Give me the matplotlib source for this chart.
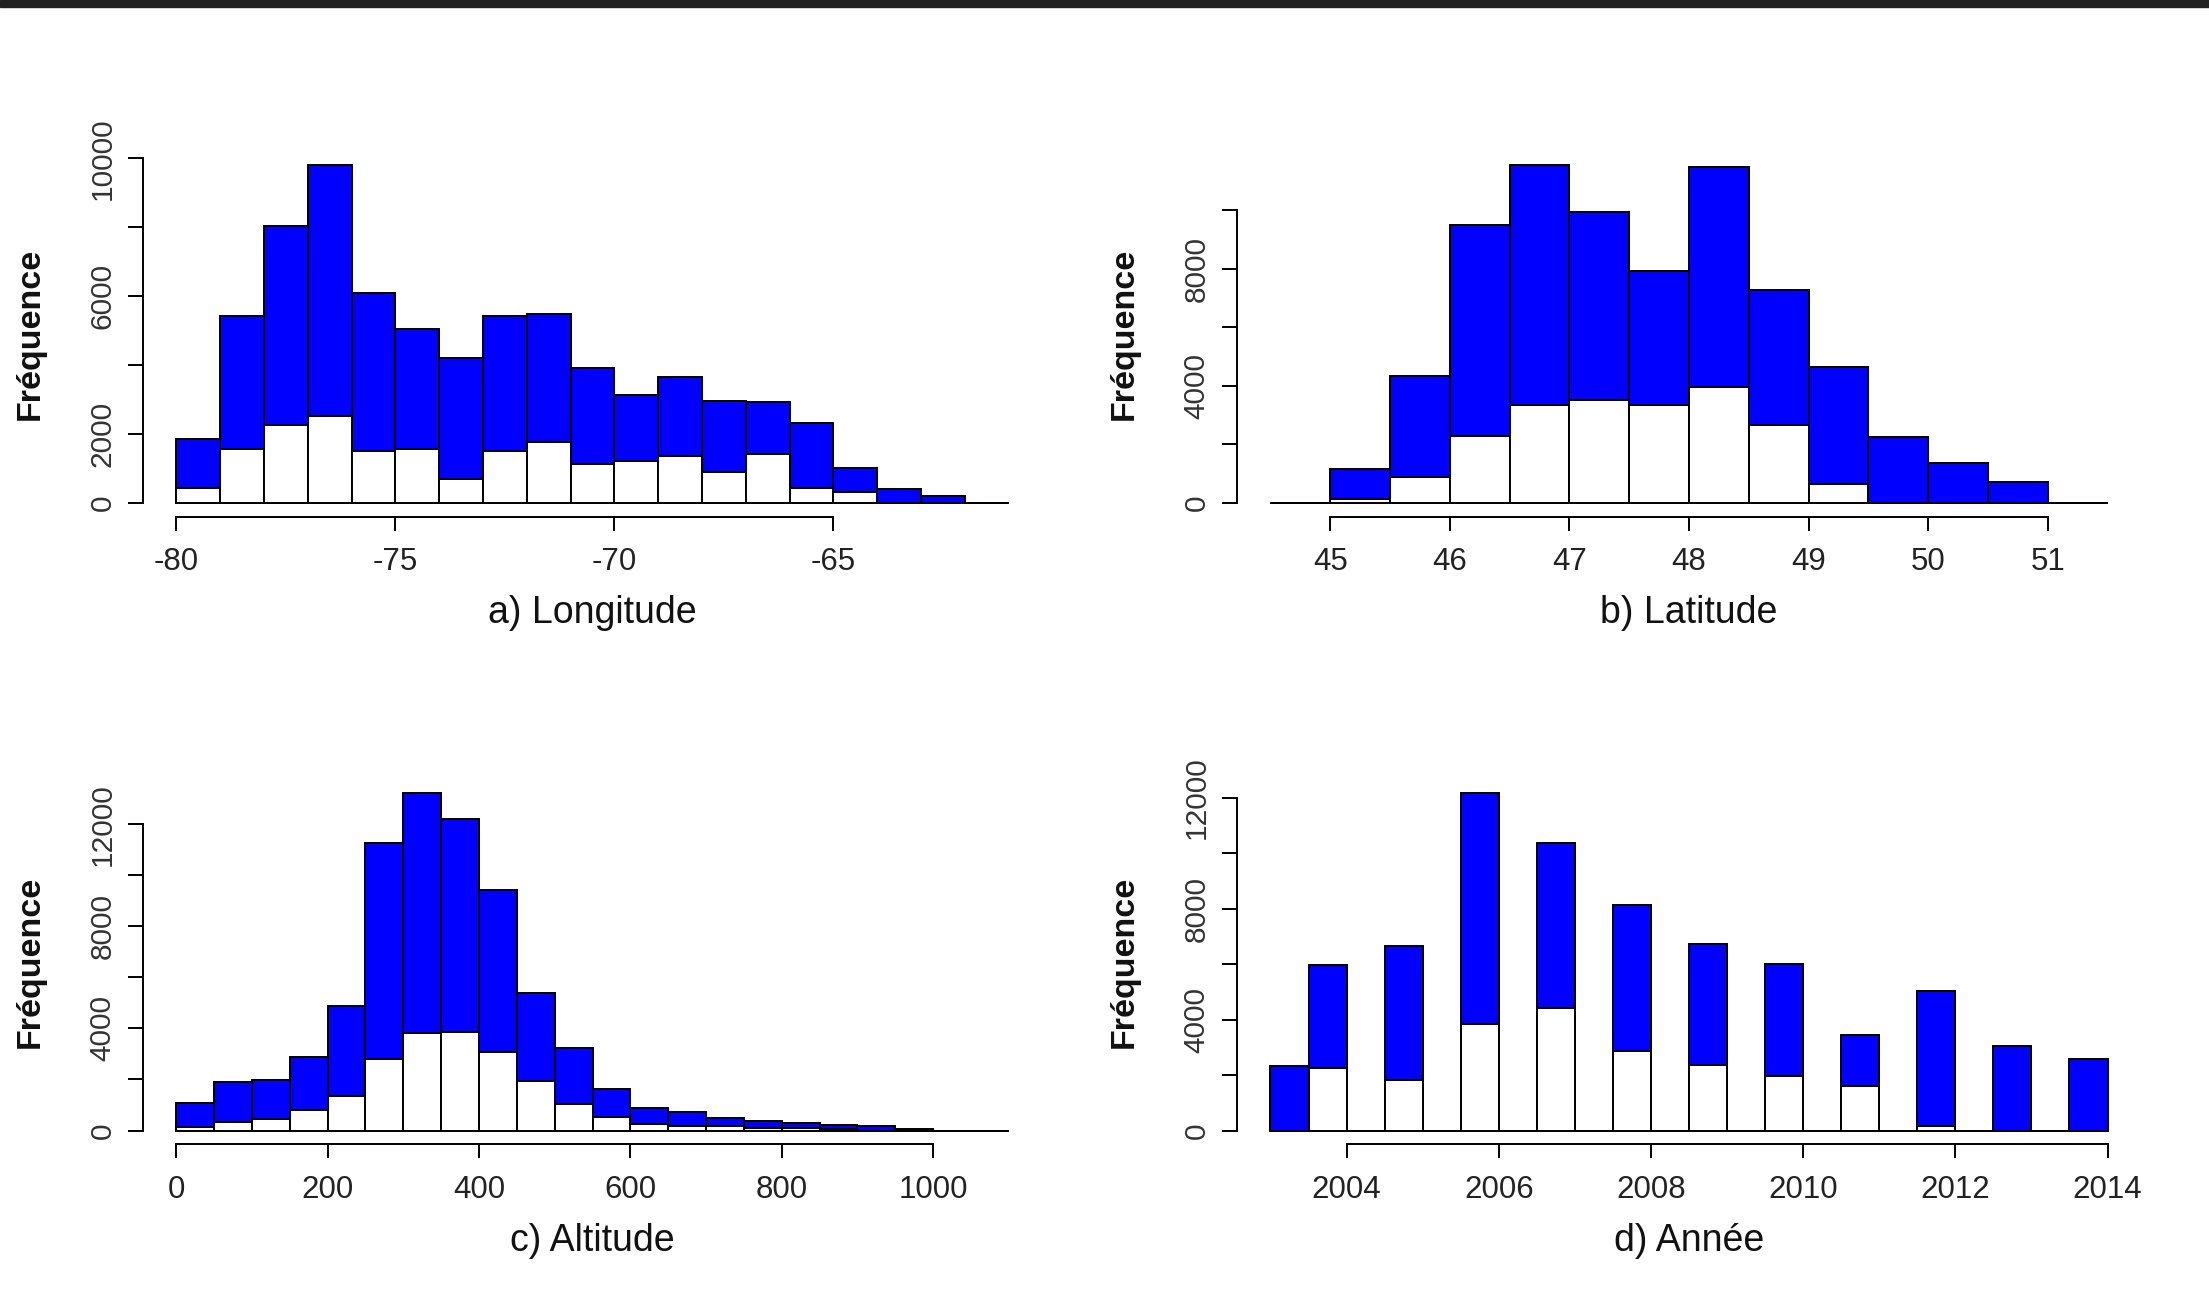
import matplotlib
matplotlib.use("Agg")
import matplotlib.pyplot as plt
from matplotlib.patches import Rectangle
import numpy as np

plt.rcParams['font.family'] = ['Liberation Sans', 'DejaVu Sans']

# a) longitude, bins of 1 degree
lon_edges = np.arange(-80, -60.5, 1)
lon_total = [1860, 5420, 8030, 9820, 6090, 5060, 4220, 5420, 5480, 3920,
             3120, 3660, 2960, 2920, 2330, 1020, 400, 200, 0]
lon_sub = [430, 1580, 2260, 2510, 1520, 1580, 690, 1520, 1780, 1120,
           1220, 1370, 910, 1430, 430, 330, 0, 0, 0]

# b) latitude, bins of 0.5 degree
lat_edges = np.arange(44.5, 51.51, 0.5)
lat_total = [0, 1160, 4340, 9510, 11560, 9950, 7920, 11480, 7260, 4660,
             2250, 1350, 720, 0]
lat_sub = [0, 130, 870, 2290, 3340, 3520, 3340, 3960, 2670, 650,
           0, 0, 0, 0]

# c) altitude, bins of 50 m
alt_edges = np.arange(0, 1101, 50)
alt_total = [1060, 1890, 1970, 2900, 4880, 11250, 13210, 12220, 9410, 5400,
             3230, 1620, 900, 710, 500, 360, 300, 230, 160, 70, 0, 0]
alt_sub = [120, 320, 460, 810, 1370, 2790, 3830, 3880, 3060, 1940,
           1020, 530, 240, 175, 175, 95, 95, 40, 0, 0, 0, 0]

# d) year, half-year bins
yr_edges = np.arange(2003, 2014.01, 0.5)
yr_total = [2330, 5960, 0, 6660, 0, 12160, 0, 10360, 0, 8140, 0,
            6740, 0, 6020, 0, 3440, 0, 5050, 0, 3040, 0, 2590]
yr_sub = [0, 2250, 0, 1840, 0, 3850, 0, 4430, 0, 2880, 0,
          2370, 0, 1970, 0, 1590, 0, 160, 0, 0, 0, 0]

W, H = 2209, 1312
fig = plt.figure(figsize=(W / 100, H / 100), dpi=100)
fig.patches.append(Rectangle((0, 1 - 7 / H), 1, 7 / H, transform=fig.transFigure,
                             color='#222222', zorder=10))

panels = [
    # edges, total, sub, xlim, xticks, ytop, ylabels shown, label, box(px: left, right, top, bottom)
    (lon_edges, lon_total, lon_sub, (-80.76, -60.24), np.arange(-80, -64, 5),
     10000, [0, 2000, 6000, 10000], 'a) Longitude', (143, 1042, 151, 516.5)),
    (lat_edges, lat_total, lat_sub, (44.22, 51.78), np.arange(45, 52, 1),
     10000, [0, 4000, 8000], 'b) Latitude', (1237, 2141, 151, 516.5)),
    (alt_edges, alt_total, alt_sub, (-44, 1144), np.arange(0, 1001, 200),
     12000, [0, 4000, 8000, 12000], 'c) Altitude', (143, 1042, 780, 1144)),
    (yr_edges, yr_total, yr_sub, (2002.56, 2014.44), np.arange(2004, 2015, 2),
     12000, [0, 4000, 8000, 12000], 'd) Année', (1237, 2141, 780, 1144)),
]

lw = 1.4
for edges, total, sub, xlim, xticks, ytop, shown, label, box in panels:
    l, r, t, b = box
    ax = fig.add_axes([l / W, 1 - b / H, (r - l) / W, (b - t) / H])
    widths = np.diff(edges)
    ax.bar(edges[:-1], total, width=widths, align='edge', color='#0000FF',
           edgecolor='black', linewidth=lw)
    ax.bar(edges[:-1], sub, width=widths, align='edge', color='white',
           edgecolor='black', linewidth=lw)
    ymax = max(total)
    ax.set_xlim(*xlim)
    ax.set_ylim(-0.04 * ymax, 1.04 * ymax)

    for s in ['top', 'right']:
        ax.spines[s].set_visible(False)
    ax.spines['left'].set_linewidth(lw)
    ax.spines['bottom'].set_linewidth(lw)
    ax.spines['left'].set_bounds(0, ytop)
    ax.spines['bottom'].set_bounds(xticks[0], xticks[-1])

    ax.set_xticks(xticks)
    ax.set_xticklabels([str(int(v)) for v in xticks])
    yt = np.arange(0, ytop + 1, 2000)
    ax.set_yticks(yt)
    ax.set_yticklabels([str(int(v)) if v in shown else '' for v in yt],
                       rotation=90, va='center')
    ax.tick_params(axis='x', length=10, width=lw, pad=12, labelsize=22.5,
                   labelcolor='#222222')
    ax.tick_params(axis='y', length=11, width=lw, pad=8, labelsize=21.5,
                   labelcolor='#333333')

    cx = (l + r) / 2
    fig.text(cx / W, 1 - (b + 97) / H, label, ha='center', va='center',
             fontsize=27, color='#111111')
    fig.text((l - 113) / W, 1 - ((t + b) / 2) / H, 'Fréquence', rotation=90,
             ha='center', va='center', fontsize=24.5, fontweight='bold',
             color='#111111')

fig.savefig('out.png', dpi=100, facecolor='white')
